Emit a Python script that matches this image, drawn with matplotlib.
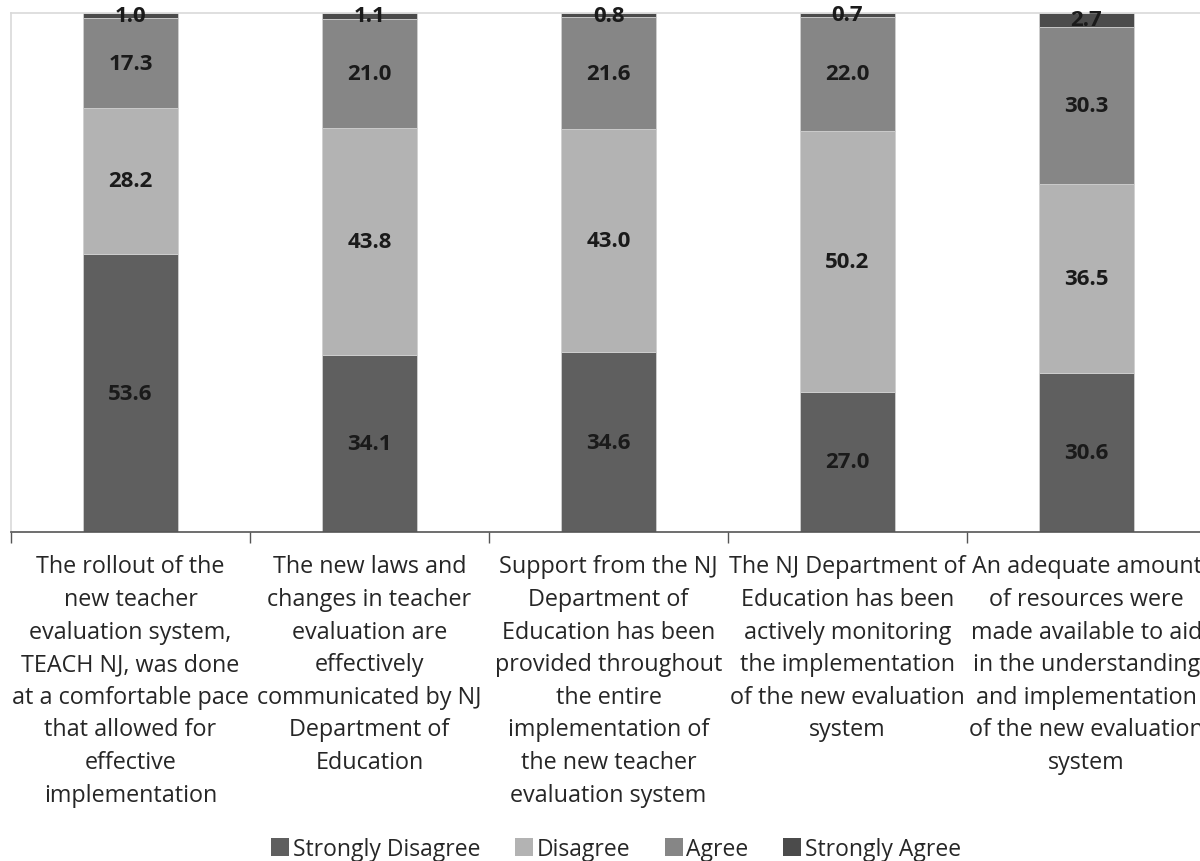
import matplotlib.pyplot as plt
import numpy as np
from matplotlib.patches import Patch

plt.rcParams['font.family'] = ['Open Sans', 'DejaVu Sans']

categories = [
    "The rollout of the\nnew teacher\nevaluation system,\nTEACH NJ, was done\nat a comfortable pace\nthat allowed for\neffective\nimplementation",
    "The new laws and\nchanges in teacher\nevaluation are\neffectively\ncommunicated by NJ\nDepartment of\nEducation",
    "Support from the NJ\nDepartment of\nEducation has been\nprovided throughout\nthe entire\nimplementation of\nthe new teacher\nevaluation system",
    "The NJ Department of\nEducation has been\nactively monitoring\nthe implementation\nof the new evaluation\nsystem",
    "An adequate amount\nof resources were\nmade available to aid\nin the understanding\nand implementation\nof the new evaluation\nsystem",
]
strongly_disagree = [53.6, 34.1, 34.6, 27.0, 30.6]
disagree = [28.2, 43.8, 43.0, 50.2, 36.5]
agree = [17.3, 21.0, 21.6, 22.0, 30.3]
strongly_agree = [1.0, 1.1, 0.8, 0.7, 2.7]

series = [
    ("Strongly Disagree", strongly_disagree, "#5f5f5f"),
    ("Disagree", disagree, "#b3b3b3"),
    ("Agree", agree, "#868686"),
    ("Strongly Agree", strongly_agree, "#4b4b4b"),
]

fig = plt.figure(figsize=(12, 8.62), dpi=100)
W, H = 1200, 862
left, right, top, bottom = 11, 1206, 14, 533
ax = fig.add_axes([left / W, 1 - bottom / H, (right - left) / W, (bottom - top) / H])

x = np.arange(len(categories))
totals = np.sum([s[1] for s in series], axis=0)
base = np.zeros(len(categories))
for name, vals, color in series:
    vals = np.array(vals, dtype=float)
    pct = vals / totals * 100
    ax.bar(x, pct, bottom=base, width=0.4, color=color, edgecolor='#d0d0d0',
           linewidth=0.6, label=name)
    for xi, b, p, v in zip(x, base, pct, vals):
        ax.text(xi, b + p / 2, f"{v:.1f}", ha='center', va='center',
                fontsize=16, fontweight='bold', color='#1a1a1a')
    base += pct

ax.set_xlim(-0.5, len(categories) - 0.5)
ax.set_ylim(0, 100)
ax.set_yticks([])

ax.set_xticks(x)
ax.set_xticklabels(categories, fontsize=16.8, color='#262626', linespacing=1.48,
                   va='top')
ax.tick_params(axis='x', which='major', length=0, pad=16)
ax.set_xticks(np.arange(-0.5, len(categories), 1.0), minor=True)
ax.tick_params(axis='x', which='minor', length=8, width=1.0, color='#555555',
               direction='out')

for side in ('top', 'left', 'right'):
    ax.spines[side].set_color('#d9d9d9')
    ax.spines[side].set_linewidth(1.2)
ax.spines['bottom'].set_color('#555555')
ax.spines['bottom'].set_linewidth(1.2)

handles = [Patch(facecolor=c, edgecolor='none', label=n) for n, _, c in series]
fig.legend(handles=handles, loc='center', bbox_to_anchor=(616 / W, 1 - 850 / H),
           ncol=4, frameon=False, fontsize=16.5, handlelength=0.8, handleheight=0.8,
           handletextpad=0.15, columnspacing=1.5, labelcolor='#262626',
           borderpad=0.1)

fig.savefig('out.png', dpi=100, facecolor='white')
